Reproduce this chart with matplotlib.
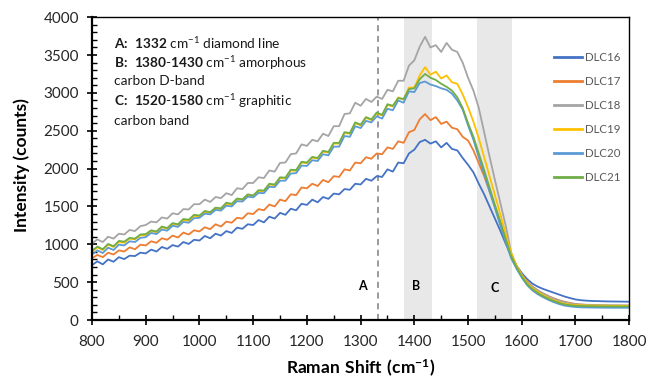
import numpy as np
import matplotlib.pyplot as plt
from matplotlib.ticker import MultipleLocator

plt.rcParams['font.family'] = ['Lato', 'DejaVu Sans']
plt.rcParams['mathtext.fontset'] = 'custom'
plt.rcParams['mathtext.rm'] = 'Lato'
plt.rcParams['mathtext.bf'] = 'Lato:bold'

# Raman shift grid (cm-1), one reading every 10 cm-1
shift = np.arange(800, 1801, 10)

dlc16 = [725, 775, 735, 800, 770, 830, 805, 850, 845, 890,
         880, 930, 905, 965, 940, 990, 970, 1030, 1005, 1060,
         1050, 1110, 1080, 1140, 1115, 1175, 1150, 1220, 1205, 1265,
         1255, 1320, 1290, 1365, 1340, 1415, 1390, 1470, 1450, 1535,
         1520, 1590, 1555, 1625, 1600, 1670, 1660, 1730, 1720, 1800,
         1790, 1865, 1840, 1900, 1890, 1990, 1960, 2080, 2070, 2200,
         2250, 2350, 2380, 2330, 2360, 2280, 2340, 2260, 2240, 2140,
         2050, 1950, 1800, 1660, 1500, 1340, 1180, 1010, 850, 720,
         620, 540, 480, 440, 410, 385, 360, 335, 310, 290,
         272, 262, 256, 252, 250, 248, 246, 245, 244, 243,
         242]

dlc17 = [815, 860, 830, 890, 865, 920, 905, 960, 935, 995,
         985, 1040, 1020, 1080, 1060, 1115, 1090, 1155, 1130, 1185,
         1170, 1225, 1200, 1265, 1235, 1300, 1285, 1350, 1340, 1410,
         1400, 1465, 1450, 1525, 1500, 1590, 1570, 1660, 1650, 1750,
         1740, 1800, 1770, 1850, 1820, 1900, 1890, 1990, 1975, 2080,
         2070, 2150, 2130, 2200, 2190, 2280, 2260, 2360, 2340, 2480,
         2510, 2650, 2720, 2640, 2680, 2590, 2620, 2540, 2520, 2420,
         2370, 2240, 2070, 1900, 1700, 1500, 1280, 1070, 870, 720,
         600, 510, 440, 390, 350, 315, 285, 260, 240, 225,
         212, 205, 200, 196, 193, 190, 188, 186, 185, 184,
         183]

dlc18 = [1010, 1065, 1030, 1100, 1075, 1140, 1130, 1190, 1175, 1240,
         1255, 1300, 1290, 1355, 1340, 1410, 1395, 1465, 1460, 1530,
         1530, 1590, 1560, 1625, 1610, 1675, 1650, 1740, 1730, 1810,
         1810, 1885, 1875, 1975, 1960, 2075, 2080, 2190, 2200, 2320,
         2300, 2380, 2360, 2460, 2430, 2560, 2560, 2720, 2730, 2870,
         2830, 2920, 2880, 2950, 2920, 3040, 3020, 3160, 3160, 3360,
         3430, 3610, 3740, 3600, 3630, 3540, 3660, 3570, 3540, 3400,
         3200, 3030, 2800, 2480, 2160, 1850, 1550, 1250, 900, 710,
         590, 500, 440, 390, 350, 310, 280, 255, 235, 220,
         210, 205, 202, 200, 199, 198, 197, 196, 196, 195,
         195]

dlc19 = [905, 960, 925, 995, 965, 1030, 1020, 1075, 1065, 1120,
         1120, 1175, 1160, 1225, 1205, 1270, 1255, 1320, 1310, 1375,
         1370, 1430, 1415, 1475, 1465, 1535, 1520, 1595, 1585, 1650,
         1640, 1705, 1700, 1790, 1780, 1875, 1870, 1975, 1970, 2080,
         2070, 2145, 2130, 2225, 2210, 2330, 2330, 2470, 2460, 2600,
         2570, 2670, 2640, 2730, 2700, 2840, 2820, 2940, 2910, 3070,
         3070, 3230, 3340, 3240, 3280, 3190, 3230, 3140, 3120, 2980,
         2810, 2620, 2400, 2150, 1900, 1650, 1400, 1140, 890, 720,
         590, 490, 420, 370, 330, 290, 260, 235, 215, 205,
         198, 195, 193, 192, 191, 190, 190, 189, 189, 188,
         188]

dlc20 = [865, 920, 885, 955, 925, 995, 985, 1040, 1030, 1085,
         1095, 1150, 1135, 1195, 1180, 1245, 1230, 1295, 1285, 1345,
         1350, 1405, 1395, 1455, 1445, 1510, 1500, 1570, 1565, 1630,
         1620, 1680, 1675, 1760, 1755, 1840, 1840, 1935, 1940, 2040,
         2035, 2110, 2100, 2190, 2175, 2290, 2290, 2430, 2420, 2560,
         2535, 2630, 2610, 2690, 2660, 2790, 2770, 2900, 2870, 3020,
         3010, 3130, 3150, 3110, 3090, 3060, 3040, 2990, 2900, 2780,
         2570, 2380, 2150, 1930, 1700, 1480, 1250, 1030, 820, 680,
         560, 460, 390, 340, 300, 265, 235, 210, 190, 180,
         172, 168, 166, 165, 164, 163, 163, 162, 162, 162,
         162]

dlc21 = [915, 970, 935, 1005, 975, 1045, 1035, 1085, 1075, 1130,
         1135, 1185, 1170, 1235, 1215, 1280, 1265, 1335, 1325, 1390,
         1380, 1440, 1425, 1485, 1475, 1550, 1535, 1605, 1595, 1660,
         1645, 1715, 1710, 1800, 1790, 1885, 1880, 1985, 1980, 2090,
         2080, 2155, 2140, 2235, 2220, 2340, 2340, 2480, 2470, 2610,
         2580, 2680, 2650, 2740, 2710, 2850, 2830, 2930, 2920, 3050,
         3060, 3180, 3250, 3200, 3170, 3120, 3080, 3030, 2940, 2800,
         2600, 2420, 2200, 1980, 1750, 1520, 1300, 1070, 850, 700,
         575, 475, 405, 355, 315, 280, 250, 225, 205, 195,
         188, 185, 183, 182, 181, 180, 180, 179, 179, 179,
         178]

names = ['DLC16', 'DLC17', 'DLC18', 'DLC19', 'DLC20', 'DLC21']
colors = ['#4472C4', '#ED7D31', '#A5A5A5', '#FFC000', '#5B9BD5', '#70AD47']
spectra = [dlc16, dlc17, dlc18, dlc19, dlc20, dlc21]

fig = plt.figure(figsize=(6.48, 3.81), dpi=100)
ax = fig.add_axes([0.142, 0.160, 0.829, 0.795])

# marked bands
ax.axvspan(1380, 1433, color='#e8e8e8', lw=0, zorder=0)
ax.axvspan(1516, 1582, color='#e8e8e8', lw=0, zorder=0)
ax.axvline(1332, color='#7f7f7f', ls=(0, (4, 3)), lw=1.1, zorder=1)

for y, c, n in zip(spectra, colors, names):
    ax.plot(shift, y, color=c, lw=1.3, label=n, zorder=2)

ax.set_xlim(800, 1800)
ax.set_ylim(0, 4000)
ax.xaxis.set_major_locator(MultipleLocator(100))
ax.xaxis.set_minor_locator(MultipleLocator(50))
ax.yaxis.set_major_locator(MultipleLocator(500))
ax.yaxis.set_minor_locator(MultipleLocator(100))
ax.tick_params(which='major', direction='inout', length=7, width=1.2, labelsize=11,
               colors='black', labelcolor='#262626')
ax.tick_params(axis='y', which='major', pad=6)
ax.tick_params(axis='x', which='major', pad=7)
ax.tick_params(which='minor', direction='in', length=3.5, width=1.0)
for s in ax.spines.values():
    s.set_color('black')
    s.set_linewidth(1.0)
ax.spines['left'].set_linewidth(1.6)
ax.spines['bottom'].set_linewidth(1.6)

# annotation block
notes = [r'$\bf{A\!:\ 1332}$ cm$^{-1}$ diamond line',
         r'$\bf{B\!:\ 1380\text{-}1430}$ cm$^{-1}$ amorphous',
         'carbon D-band',
         r'$\bf{C\!:\ 1520\text{-}1580}$ cm$^{-1}$ graphitic',
         'carbon band']
ny = [0.914, 0.851, 0.789, 0.723, 0.657]
for t, yy in zip(notes, ny):
    ax.text(0.040, yy, t, transform=ax.transAxes, fontsize=9.8, va='center', color='#1a1a1a')

ax.text(1303, 450, 'A', fontsize=9, fontweight='bold', ha='center', va='center')
ax.text(1403, 450, 'B', fontsize=9, fontweight='bold', ha='center', va='center')
ax.text(1550, 420, 'C', fontsize=9, fontweight='bold', ha='center', va='center')

leg = ax.legend(loc='upper left', bbox_to_anchor=(0.860, 0.884), frameon=False, fontsize=8.3,
                handlelength=2.4, handletextpad=0.3, labelspacing=1.12, borderpad=0,
                borderaxespad=0, labelcolor='#595959')
for h in leg.get_lines():
    h.set_linewidth(2)

fig.text(0.034, 0.567, 'Intensity (counts)', rotation=90, fontsize=12.5, fontweight='bold',
         ha='center', va='center')
fig.text(0.556, 0.034, r'$\bf{Raman\ Shift\ (cm^{-1})}$', fontsize=12.5,
         ha='center', va='center')

fig.savefig('out.png', dpi=100)
